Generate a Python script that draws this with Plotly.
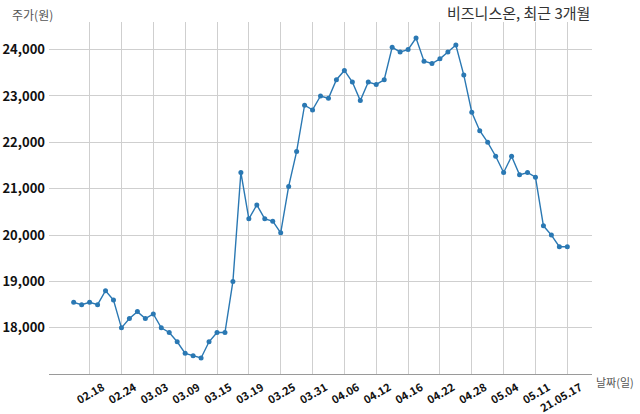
import plotly.graph_objects as go

dates = ["02.16", "02.17", "02.18", "02.19", "02.22", "02.23", "02.24", "02.25", "02.26", "03.02",
         "03.03", "03.04", "03.05", "03.08", "03.09", "03.10", "03.11", "03.12", "03.15", "03.16",
         "03.17", "03.18", "03.19", "03.22", "03.23", "03.24", "03.25", "03.26", "03.29", "03.30",
         "03.31", "04.01", "04.02", "04.05", "04.06", "04.07", "04.08", "04.09", "04.12", "04.13",
         "04.14", "04.15", "04.16", "04.19", "04.20", "04.21", "04.22", "04.23", "04.26", "04.27",
         "04.28", "04.29", "04.30", "05.03", "05.04", "05.06", "05.07", "05.10", "05.11", "05.12",
         "05.13", "05.14", "05.17"]

prices = [18550, 18500, 18550, 18500, 18800, 18600, 18000, 18200, 18350, 18200,
          18300, 18000, 17900, 17700, 17450, 17400, 17350, 17700, 17900, 17900,
          19000, 21350, 20350, 20650, 20350, 20300, 20050, 21050, 21800, 22800,
          22700, 23000, 22950, 23350, 23550, 23300, 22900, 23300, 23250, 23350,
          24050, 23950, 24000, 24250, 23750, 23700, 23800, 23950, 24100, 23450,
          22650, 22250, 22000, 21700, 21350, 21700, 21300, 21350, 21250, 20200,
          20000, 19750, 19750]

tick_index = list(range(2, 63, 4))
tick_text = [dates[i] for i in tick_index]
tick_text[-1] = "21." + tick_text[-1]

y_ticks = [18000, 19000, 20000, 21000, 22000, 23000, 24000]
y_tick_text = ["18,000", "19,000", "20,000", "21,000", "22,000", "23,000", "24,000"]

title_text = "비즈니스온, 최근 3개월"
y_label = "주가(원)"
x_label = "날짜(일)"

x = list(range(len(prices)))

fig = go.Figure()
fig.add_trace(go.Scatter(
    x=x, y=prices, mode="lines+markers",
    line=dict(color="#2a78b3", width=1.4),
    marker=dict(color="#2a78b3", size=5),
    hovertext=dates, showlegend=False,
))

ML, MR, MT, MB = 49, 48, 22, 40
W, H = 640, 414
pw, ph = W - ML - MR, H - MT - MB

fig.update_layout(
    width=W, height=H,
    margin=dict(l=ML, r=MR, t=MT, b=MB, pad=0, autoexpand=False),
    paper_bgcolor="white", plot_bgcolor="white",
    font=dict(family="Noto Sans CJK KR, Noto Sans, sans-serif", color="#111"),
)

n = len(prices) - 1
fig.update_xaxes(
    range=[-0.05 * n, n * 1.05],
    tickmode="array", tickvals=tick_index, ticktext=tick_text,
    tickangle=-30, ticklabelshift=13, ticklabelstandoff=2, automargin=False,
    tickfont=dict(size=11, weight="bold", color="#111"),
    showgrid=True, gridcolor="#cfcfcf", gridwidth=1,
    showline=True, linecolor="#9a9a9a", linewidth=1,
    ticks="", zeroline=False,
)
ymin, ymax = min(prices), max(prices)
pad = 0.05 * (ymax - ymin)
fig.update_yaxes(
    range=[ymin - pad, ymax + pad],
    tickmode="array", tickvals=y_ticks, ticktext=y_tick_text, automargin=False,
    tickfont=dict(size=13, weight="bold", color="#111"),
    showgrid=True, gridcolor="#cfcfcf", gridwidth=1,
    showline=False, ticks="", zeroline=False,
    ticklabelstandoff=3,
)

fig.add_annotation(
    text=title_text, xref="paper", yref="paper",
    x=1, y=(H - MB - 12) / ph, xanchor="right", yanchor="middle",
    showarrow=False, font=dict(size=15, color="#333"),
)
fig.add_annotation(
    text=y_label, xref="paper", yref="paper",
    x=(10 - ML) / pw, y=(H - MB - 14) / ph, xanchor="left", yanchor="middle",
    showarrow=False, font=dict(size=12, color="#555"),
)
fig.add_annotation(
    text=x_label, xref="paper", yref="paper",
    x=(594 - ML) / pw, y=(H - MB - 382) / ph, xanchor="left", yanchor="middle",
    showarrow=False, font=dict(size=11, color="#555"),
)

fig.write_html(
    "out.html",
    config={"displayModeBar": False},
    post_script="document.body.style.margin='0';document.body.style.overflow='hidden';",
)
